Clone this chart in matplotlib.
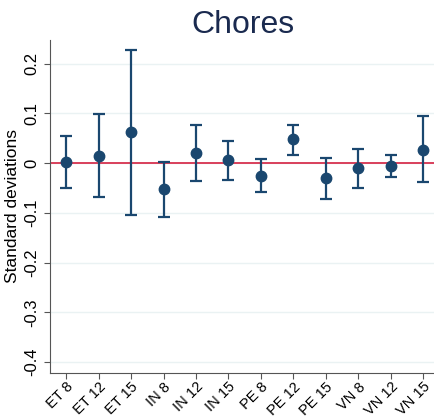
"""Chores: point estimates with confidence intervals by country-age group"""

import numpy as np
from matplotlib import pyplot as plt

groups = ["ET 8", "ET 12", "ET 15", "IN 8", "IN 12", "IN 15",
          "PE 8", "PE 12", "PE 15", "VN 8", "VN 12", "VN 15"]
estimates = [0.003, 0.015, 0.062, -0.052, 0.020, 0.006,
             -0.025, 0.048, -0.030, -0.010, -0.005, 0.027]
ci_upper = [0.055, 0.099, 0.227, 0.003, 0.076, 0.044,
            0.008, 0.077, 0.010, 0.029, 0.017, 0.095]
ci_lower = [-0.051, -0.068, -0.105, -0.109, -0.036, -0.034,
            -0.058, 0.017, -0.072, -0.050, -0.027, -0.039]
y_ticks = [-0.4, -0.3, -0.2, -0.1, 0, 0.1, 0.2]
y_tick_labels = ["-0.4", "-0.3", "-0.2", "-0.1", "0", "0.1", "0.2"]

navy = "#1a476f"
plt.rcParams["font.family"] = ["Liberation Sans", "DejaVu Sans"]

fig = plt.figure(figsize=(4.35, 4.19), dpi=100)
ax = fig.add_axes([0.115, 0.11, 0.885, 0.795])

x = np.arange(1, len(groups) + 1)
est = np.array(estimates)
yerr = [est - np.array(ci_lower), np.array(ci_upper) - est]

for t in y_ticks:
    ax.axhline(t, color="#eaf2f3", linewidth=1, zorder=0)
ax.axhline(0, color="#d9405b", linewidth=1.4, zorder=1)
ax.errorbar(x, est, yerr=yerr, fmt="o", color=navy, ecolor=navy,
            markersize=7.5, elinewidth=1.6, capsize=4, capthick=1.6, zorder=3)

ax.set_xlim(0.5, 12.37)
ax.set_ylim(-0.422, 0.248)
ax.set_xticks(x)
ax.set_xticklabels(groups, rotation=45, ha="right", rotation_mode="anchor",
                   fontsize=10.5)
ax.set_yticks(y_ticks)
ax.set_yticklabels(y_tick_labels, rotation=90, va="center", fontsize=12)
ax.set_ylabel("Standard deviations", fontsize=12.5, labelpad=3)
ax.set_title("Chores", fontsize=23, color="#1a2a4f", pad=5)

for side in ["top", "right"]:
    ax.spines[side].set_visible(False)
for side in ["left", "bottom"]:
    ax.spines[side].set_color("#555555")
ax.tick_params(axis="both", colors="#555555", labelcolor="black", length=4)
ax.tick_params(axis="x", pad=1)

fig.savefig("out.png", dpi=100)
